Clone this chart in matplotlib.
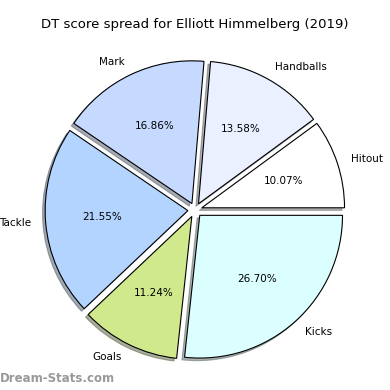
import matplotlib
matplotlib.use('Agg')
import matplotlib.pyplot as plt

# DT score spread
labels = ['Hitout', 'Handballs', 'Mark', 'Tackle', 'Goals', 'Kicks']
shares = [10.07, 13.58, 16.86, 21.55, 11.24, 26.70]
colors = ['#ffffff', '#eaf0ff', '#c6d9ff', '#b3d4ff', '#d0e98c', '#dafffe']

fig = plt.figure(figsize=(3.9, 3.9), dpi=100)
ax = fig.add_axes([0.0425, 0.004, 0.915, 0.915])
ax.pie(shares, labels=labels, colors=colors, autopct='%.2f%%',
       explode=[0.05] * len(shares),
       shadow={'ox': -0.013, 'oy': -0.013, 'shade': 0.6}, startangle=0,
       wedgeprops={'edgecolor': 'black', 'linewidth': 0.8},
       textprops={'fontsize': 7.5})
ax.set_aspect('equal')
fig.suptitle('DT score spread for Elliott Himmelberg (2019)', fontsize=9.5, y=0.955)
fig.text(0.0, 0.02, 'Dream-Stats.com', fontsize=8.5, color='#999999', fontweight='bold')
fig.savefig('out.png', dpi=100)
